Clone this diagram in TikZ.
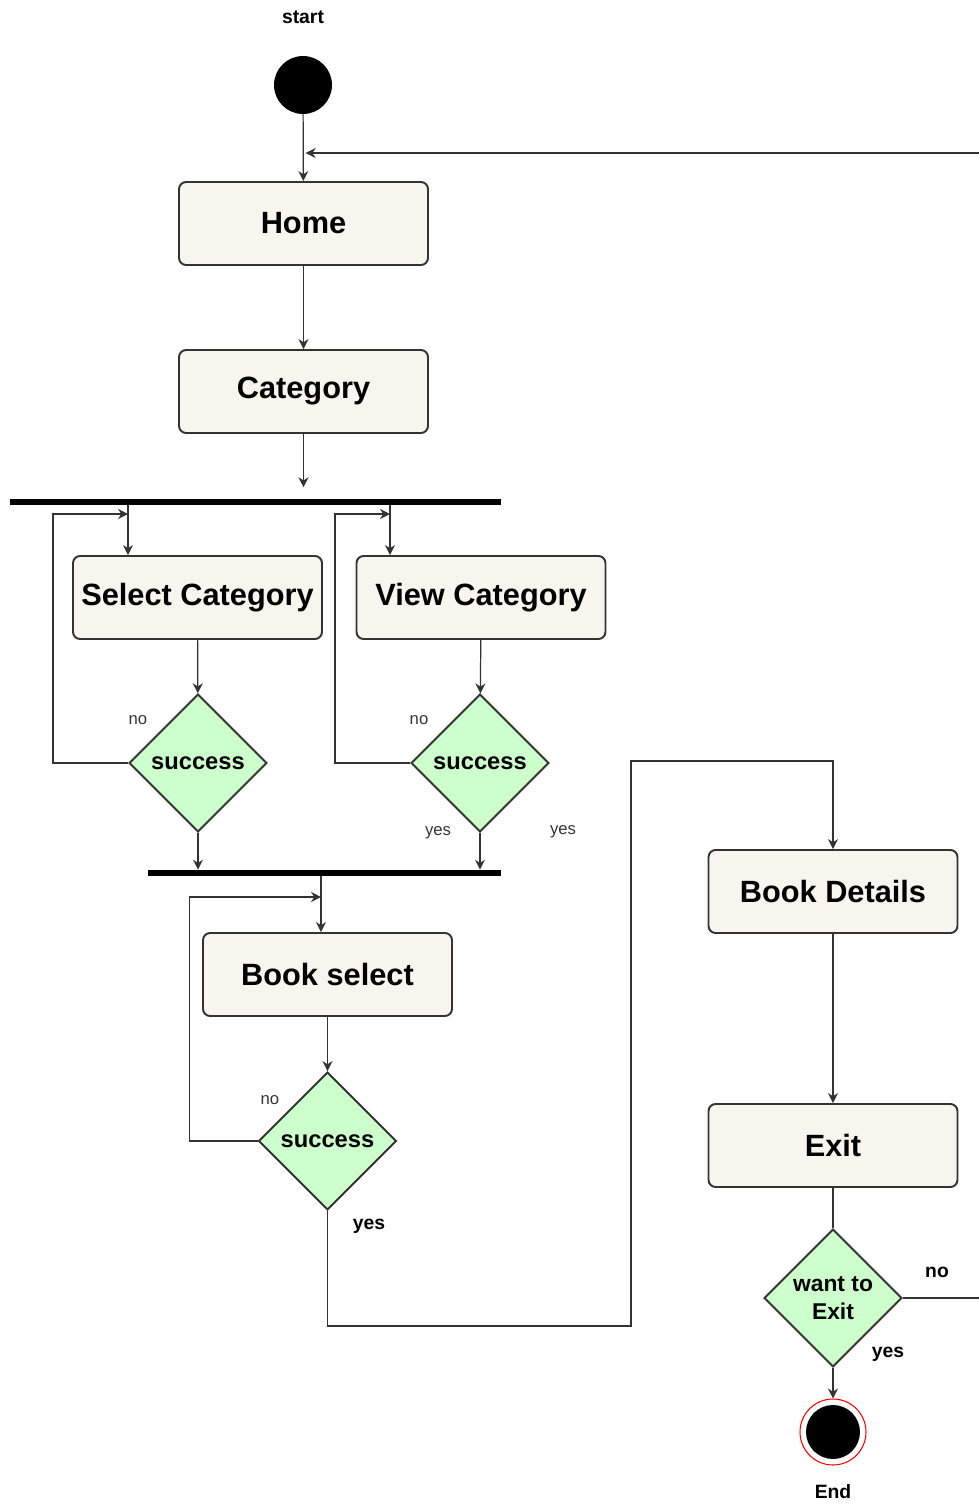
\documentclass[tikz,border=0pt]{standalone}
\usepackage{fontspec}
\setmainfont{Liberation Sans}
\usepackage{xcolor}
\usepackage{tikz}
\usetikzlibrary{shapes.geometric,arrows.meta}

\definecolor{actfill}{HTML}{F7F5EE}
\definecolor{decfill}{HTML}{CCFFCC}
\definecolor{edge}{HTML}{333333}

\begin{document}
\begin{tikzpicture}[x=0.02cm, y=-0.02cm,
  act/.style={draw=edge, line width=1.1pt, fill=actfill, rounded corners=4pt, minimum width=4.98cm, minimum height=1.66cm, inner sep=0pt, font=\fontsize{17.5}{21}\selectfont\bfseries},
  dec/.style={diamond, draw=edge, line width=1.1pt, fill=decfill, minimum width=2.76cm, minimum height=2.76cm, inner sep=0pt, align=center, font=\fontsize{13.5}{16}\selectfont\bfseries},
  bar/.style={fill=black, inner sep=0pt, minimum height=0.12cm},
  arr/.style={draw=edge, line width=0.7pt, -{Stealth[length=2mm, width=2mm]}},
  wire/.style={draw=edge, line width=0.7pt},
  tag/.style={font=\fontsize{9.5}{11}\selectfont, text=edge, inner sep=0pt},
  lbl/.style={font=\fontsize{11}{13}\selectfont\bfseries, inner sep=0pt}]
  \useasboundingbox (0,0) rectangle (979,1505);

  % Start
  \node[lbl] (startlbl) at (303,17) {start};
  \node[circle, fill=black, minimum size=1.16cm, inner sep=0pt] (start) at (303,85) {};

  % Home and Category
  \node[act] (home) at (303.5,223.5) {Home};
  \node[act] (category) at (303.5,391.5) {Category};
  \coordinate (backin) at (979,153);
  \draw[arr] (start) -- (home);
  \draw[arr] (backin) -- ([xshift=1.5pt]start |- backin);
  \draw[arr] (home) -- (category);

  % Fork
  \node[bar, minimum width=9.82cm] (fork1) at (255.5,502) {};
  \draw[arr, shorten >=6.5pt] (category) -- (category |- fork1.north);

  % Select Category branch
  \coordinate (in1) at (128,514);
  \node[act] (selcat) at (197.5,597.5) {Select Category};
  \node[dec] (dec1) at (198,763) {success};
  \draw[arr] (fork1.south -| in1) -- (selcat.north -| in1);
  \draw[arr] (selcat) -- (dec1);
  \draw[arr] (dec1.west) -- ++(-75,0) |- (in1);
  \node[tag] at (138,720) {no};

  % View Category branch
  \coordinate (in2) at (390,514);
  \node[act] (viewcat) at (481,597.5) {View Category};
  \node[dec] (dec2) at (480,763) {success};
  \draw[arr] (fork1.south -| in2) -- (viewcat.north -| in2);
  \draw[arr] (viewcat) -- (dec2);
  \draw[arr] (dec2.west) -- ++(-75,0) |- (in2);
  \node[tag] at (419,720) {no};
  \node[tag] at (438,833) {yes};
  \node[tag] at (563,832) {yes};

  % Join
  \node[bar, minimum width=7.06cm] (join1) at (324.5,873) {};
  \draw[arr] (dec1) -- (dec1 |- join1.north);
  \draw[arr] (dec2) -- (dec2 |- join1.north);

  % Book select
  \coordinate (in3) at (321,897);
  \node[act] (booksel) at (327.5,974.5) {Book select};
  \node[dec] (dec3) at (327.5,1141) {success};
  \draw[arr] (join1.south -| in3) -- (booksel.north -| in3);
  \draw[arr] (booksel) -- (dec3);
  \draw[arr] (dec3.west) -- ++(-68,0) |- (in3);
  \node[tag] at (270,1100) {no};
  \node[lbl] at (369,1226) {yes};

  % Book Details and Exit
  \coordinate (c1) at (631,1326);
  \coordinate (c2) at (631,761);
  \node[act] (bookdet) at (833,891.5) {Book Details};
  \node[act] (exit) at (833,1145.5) {Exit};
  \node[dec, font=\fontsize{13}{16}\selectfont\bfseries] (dec4) at (833,1298) {want to\\Exit};
  \draw[arr] (dec3.south) |- (c1) -- (c2) -| (bookdet.north);
  \draw[arr] (bookdet) -- (exit);
  \draw[wire] (exit) -- (dec4);
  \coordinate (backout) at (979,1298);
  \draw[wire] (dec4.east) -- (backout);
  \node[lbl] at (937,1272) {no};
  \node[lbl] at (888,1354) {yes};

  % End
  \node[circle, draw=red, fill=white, line width=0.6pt, minimum size=1.32cm, inner sep=0pt] (endring) at (833,1432) {};
  \node[circle, fill=black, minimum size=1.08cm, inner sep=0pt] (end) at (endring) {};
  \draw[arr] (dec4) -- (endring);
  \node[lbl] at (833,1492) {End};
\end{tikzpicture}
\end{document}
